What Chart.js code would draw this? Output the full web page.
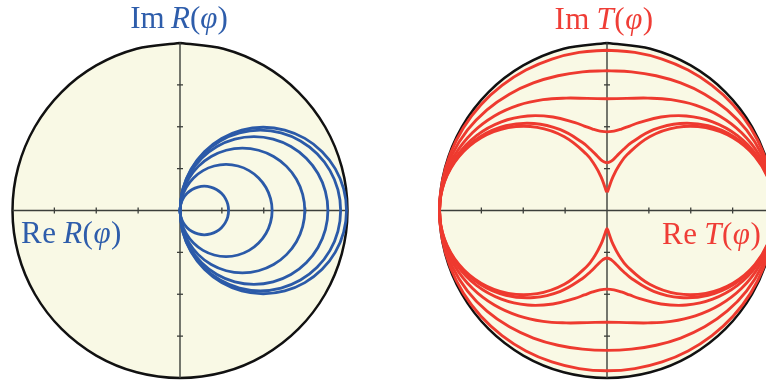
<!DOCTYPE html>
<html>
<head>
<meta charset="utf-8">
<title>R(φ) and T(φ)</title>
<script src="https://cdn.jsdelivr.net/npm/chart.js@4.4.0/dist/chart.umd.min.js"></script>
<style>
  html, body { margin: 0; padding: 0; background: #fff; overflow: hidden; }
  body { width: 766px; height: 383px; position: relative; }
  .plot { position: absolute; top: 0; width: 383px; height: 383px; }
  .plot canvas { display: block; }
  .lbl { position: absolute; font-family: "Liberation Serif", "Times New Roman", serif; font-size: 31px; line-height: 31px; white-space: nowrap; }
  .blue { color: #2e5dab; }
  .red { color: #ef3d36; }
</style>
</head>
<body>
<div class="plot" style="left:0"><canvas id="chartR" width="383" height="383"></canvas></div>
<div class="plot" style="left:383px"><canvas id="chartT" width="383" height="383"></canvas></div>
<div class="lbl blue" style="left:179px;top:2px;transform:translateX(-50%)">Im&#8201;<i>R</i>(<i>φ</i>)</div>
<div class="lbl blue" style="left:21px;top:217px;letter-spacing:0.5px">Re&#8201;<i>R</i>(<i>φ</i>)</div>
<div class="lbl red" style="left:604px;top:3px;transform:translateX(-50%);letter-spacing:0.5px">Im&#8201;<i>T</i>(<i>φ</i>)</div>
<div class="lbl red" style="left:662px;top:218px;letter-spacing:0.5px">Re&#8201;<i>T</i>(<i>φ</i>)</div>
<script>
// unit circle, quarter from (0,1) to (1,0)
const unitQuarter = [[0, 1], [0.2588, 0.9659], [0.5, 0.866], [0.7071, 0.7071], [0.866, 0.5], [0.9659, 0.2588], [1, 0]];

// axis ends and tick positions
const axisEnds = [-1, 1];
const tickValues = [-0.75, -0.5, -0.25, 0.25, 0.5, 0.75];

// R(φ): upper halves of the circles, from the origin to the right end
const rHalf1 = [[0, 0], [0.0049, 0.0375], [0.0194, 0.0725], [0.0425, 0.1025], [0.0725, 0.1256], [0.1075, 0.1401], [0.145, 0.145], [0.1825, 0.1401], [0.2175, 0.1256], [0.2475, 0.1025], [0.2706, 0.0725], [0.2851, 0.0375], [0.29, 0]];
const rHalf2 = [[0, 0], [0.0094, 0.0712], [0.0369, 0.1375], [0.0806, 0.1945], [0.1375, 0.2382], [0.2038, 0.2656], [0.275, 0.275], [0.3462, 0.2656], [0.4125, 0.2382], [0.4694, 0.1945], [0.5132, 0.1375], [0.5406, 0.0712], [0.55, 0]];
const rHalf3 = [[0, 0], [0.0127, 0.0964], [0.0499, 0.1863], [0.1091, 0.2634], [0.1863, 0.3226], [0.2761, 0.3598], [0.3725, 0.3725], [0.4689, 0.3598], [0.5588, 0.3226], [0.6359, 0.2634], [0.6951, 0.1863], [0.7323, 0.0964], [0.745, 0]];
const rHalf4 = [[0, 0], [0.0151, 0.1143], [0.0592, 0.2208], [0.1293, 0.3122], [0.2208, 0.3823], [0.3272, 0.4264], [0.4415, 0.4415], [0.5558, 0.4264], [0.6623, 0.3823], [0.7537, 0.3122], [0.8238, 0.2208], [0.8679, 0.1143], [0.883, 0]];
const rHalf5 = [[0, 0], [0.0164, 0.1241], [0.0643, 0.2398], [0.1404, 0.3391], [0.2398, 0.4153], [0.3554, 0.4632], [0.4795, 0.4795], [0.6036, 0.4632], [0.7193, 0.4153], [0.8186, 0.3391], [0.8948, 0.2398], [0.9427, 0.1241], [0.959, 0]];
const rHalf6 = [[0, 0], [0.0169, 0.1286], [0.0666, 0.2485], [0.1456, 0.3514], [0.2485, 0.4304], [0.3684, 0.4801], [0.497, 0.497], [0.6256, 0.4801], [0.7455, 0.4304], [0.8484, 0.3514], [0.9274, 0.2485], [0.9771, 0.1286], [0.994, 0]];

// T(φ): upper right quarter of each curve, from the Im axis to (1,0)
const tQuarter1 = [[0, 0.957], [0.1664, 0.9438], [0.3291, 0.9041], [0.484, 0.8383], [0.6267, 0.7469], [0.7526, 0.6315], [0.8569, 0.4947], [0.9351, 0.3403], [0.9836, 0.1734], [1, 0]];
const tQuarter2 = [[0, 0.8352], [0.146, 0.8278], [0.2928, 0.8045], [0.4396, 0.7615], [0.5829, 0.6947], [0.7166, 0.6013], [0.8326, 0.4807], [0.9229, 0.3359], [0.9803, 0.1729], [1, 0]];
const tQuarter3 = [[0, 0.6671], [0.118, 0.6692], [0.2442, 0.671], [0.382, 0.6617], [0.5278, 0.629], [0.6725, 0.5643], [0.8037, 0.464], [0.9087, 0.3307], [0.9765, 0.1722], [1, 0]];
const tQuarter4 = [[0, 0.4694], [0.0415, 0.4738], [0.0857, 0.4863], [0.1351, 0.5043], [0.1909, 0.5245], [0.3222, 0.5581], [0.4734, 0.5642], [0.6307, 0.5292], [0.7771, 0.4486], [0.8958, 0.3261], [0.9732, 0.1716], [1, 0]];
const tQuarter5 = [[0, 0.2834], [0.0258, 0.2944], [0.0571, 0.3237], [0.0975, 0.3639], [0.1483, 0.4073], [0.2785, 0.4824], [0.4361, 0.5197], [0.6032, 0.5061], [0.76, 0.4388], [0.8877, 0.3231], [0.9711, 0.1712], [1, 0]];
const tQuarter6 = [[0, 0.1094], [0.004, 0.1147], [0.0122, 0.139], [0.0355, 0.2012], [0.0724, 0.27], [0.1222, 0.3356], [0.2545, 0.4407], [0.4167, 0.4966], [0.5893, 0.4945], [0.7515, 0.4339], [0.8837, 0.3217], [0.97, 0.171], [1, 0]];

const rHalves = [rHalf1, rHalf2, rHalf3, rHalf4, rHalf5, rHalf6];
const tQuarters = [tQuarter1, tQuarter2, tQuarter3, tQuarter4, tQuarter5, tQuarter6];

// layout (pixels)
const RADIUS = 167.5;
const CENTER_Y = 210.5;
const CENTER_X_R = 180;
const CENTER_X_T = 224; // inside the right canvas
const SIZE = 383;

// reflect a piece of curve and walk back along it
function mirrorBack(pts, sx, sy) {
    return pts.slice(0, -1).reverse().map(([x, y]) => [sx * x, sy * y]);
}
function quarterToLoop(q) {
    const half = q.concat(mirrorBack(q, 1, -1));
    return half.concat(mirrorBack(half, -1, 1));
}
function halfToLoop(h) {
    return h.concat(mirrorBack(h, 1, -1));
}
const toXY = pts => pts.map(([x, y]) => ({ x: x, y: y }));

function curveDataset(pts, color, width, tension) {
    return {
        data: toXY(pts),
        borderColor: color,
        borderWidth: width,
        pointRadius: 0,
        fill: false,
        tension: tension,
        borderJoinStyle: 'round',
        order: 0
    };
}

function frameDatasets() {
    const axisColor = '#3c3f3a';
    return [
        {
            data: axisEnds.map(v => ({ x: v, y: 0 })),
            borderColor: axisColor, borderWidth: 1.4, pointRadius: 0, order: 1
        },
        {
            data: axisEnds.map(v => ({ x: 0, y: v })),
            borderColor: axisColor, borderWidth: 1.4, pointRadius: 0, order: 1
        },
        {
            data: tickValues.map(v => ({ x: v, y: 0 })),
            showLine: false, pointStyle: 'line', pointRadius: 3, pointRotation: 90,
            pointBorderColor: axisColor, pointBorderWidth: 1.3, order: 1
        },
        {
            data: tickValues.map(v => ({ x: 0, y: v })),
            showLine: false, pointStyle: 'line', pointRadius: 3, pointRotation: 0,
            pointBorderColor: axisColor, pointBorderWidth: 1.3, order: 1
        },
        {
            data: toXY(quarterToLoop(unitQuarter)),
            borderColor: '#111111', borderWidth: 2.5, pointRadius: 0,
            fill: 'shape', backgroundColor: '#f9f9e5', tension: 0.34, order: 2
        }
    ];
}

function makeChart(id, curves, centerX) {
    const config = {
        type: 'line',
        data: { datasets: curves.concat(frameDatasets()) },
        options: {
            responsive: false,
            animation: false,
            events: [],
            layout: { padding: 0, autoPadding: false },
            plugins: { legend: { display: false }, tooltip: { enabled: false } },
            scales: {
                x: { type: 'linear', display: false, min: -centerX / RADIUS, max: (SIZE - centerX) / RADIUS },
                y: { type: 'linear', display: false, min: -(SIZE - CENTER_Y) / RADIUS, max: CENTER_Y / RADIUS }
            }
        }
    };
    return new Chart(document.getElementById(id).getContext('2d'), config);
}

const blue = '#2b5aa8';
const red = '#ee3a2f';

makeChart('chartR', rHalves.map(h => curveDataset(halfToLoop(h), blue, 2.8, 0.34)), CENTER_X_R);
makeChart('chartT', tQuarters.map(q => curveDataset(quarterToLoop(q), red, 2.9, 0.4)), CENTER_X_T);
</script>
</body>
</html>
